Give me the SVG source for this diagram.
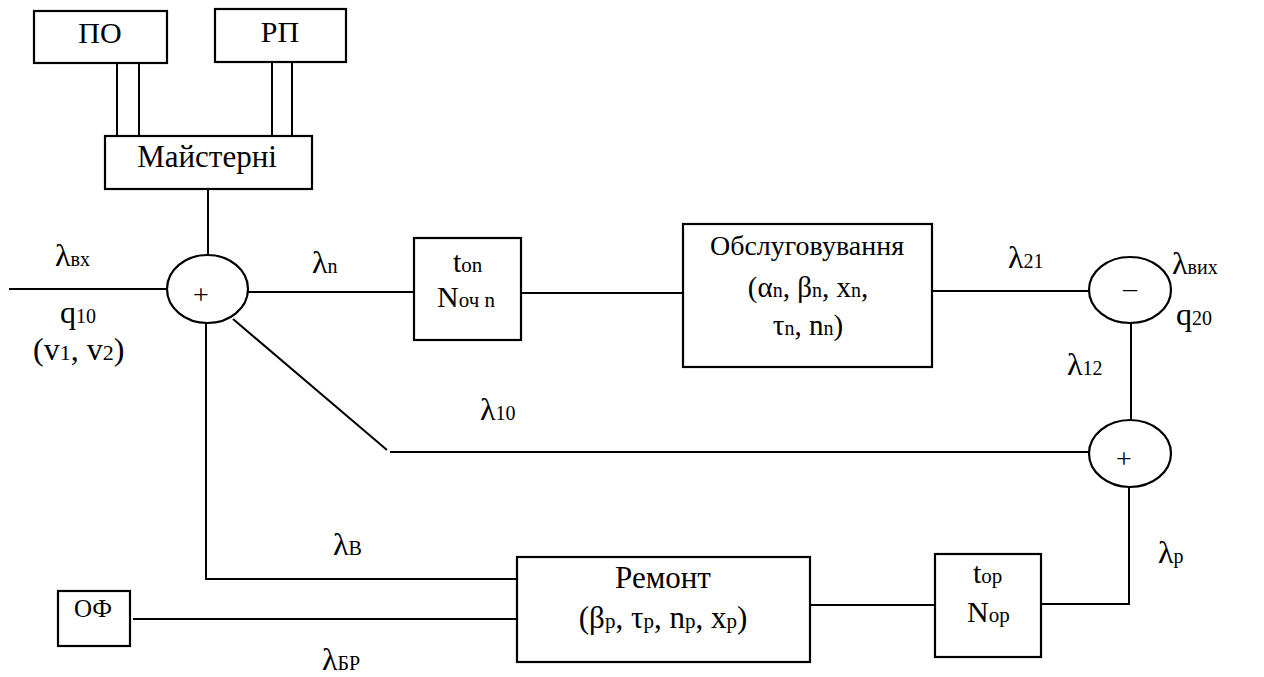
<svg xmlns="http://www.w3.org/2000/svg" width="1264" height="677" viewBox="0 0 1264 677">
<style>
.box{fill:#fff;stroke:#000;stroke-width:2.2}
.ln{fill:none;stroke:#000;stroke-width:2}
.t{font-family:"Liberation Serif","Liberation Sans",sans-serif;font-size:29px;fill:#000}
.s{font-size:20px}
.l{font-size:32px}
.c{text-anchor:middle}
</style>
<rect width="1264" height="677" fill="#fff"/>
<g id="connectors">
<line class="ln" x1="117" y1="63" x2="117" y2="136"/>
<line class="ln" x1="139" y1="63" x2="139" y2="136"/>
<line class="ln" x1="272" y1="62" x2="272" y2="136"/>
<line class="ln" x1="292" y1="62" x2="292" y2="136"/>
<line class="ln" x1="208" y1="189" x2="208" y2="255"/>
<line class="ln" x1="9" y1="289" x2="167" y2="289"/>
<line class="ln" x1="248" y1="292" x2="414" y2="292"/>
<line class="ln" x1="521" y1="293" x2="683" y2="293"/>
<line class="ln" x1="932" y1="291" x2="1089" y2="291"/>
<line class="ln" x1="1131" y1="323" x2="1131" y2="420"/>
<line class="ln" x1="233" y1="319" x2="387" y2="450"/>
<line class="ln" x1="390" y1="452" x2="1089" y2="452"/>
<polyline class="ln" points="1129,487 1129,604 1041,604"/>
<line class="ln" x1="810" y1="605" x2="935" y2="605"/>
<polyline class="ln" points="206,323 206,579 517,579"/>
<line class="ln" x1="133" y1="619" x2="517" y2="619"/>
</g>
<g id="PO">
<rect class="box" x="34" y="11" width="133" height="52"/>
<text class="t c" x="100" y="43" style="font-size:30px">ПО</text>
</g>
<g id="RP">
<rect class="box" x="215" y="9" width="131" height="53"/>
<text class="t c" x="280" y="42" style="font-size:30px">РП</text>
</g>
<g id="maisterni">
<rect class="box" x="105" y="136" width="207" height="53"/>
<text class="t c" x="207" y="167" style="font-size:31px">Майстерні</text>
</g>
<g id="sum1">
<ellipse class="box" cx="207.5" cy="289" rx="40.5" ry="34"/>
<text class="t c" x="201" y="304" style="font-size:28px">+</text>
</g>
<g id="t_on">
<rect class="box" x="414" y="238" width="107" height="102"/>
<text class="t" x="453" y="272" style="font-size:30px">t<tspan class="s" style="font-size:21px">on</tspan></text>
<text class="t" x="437" y="307" style="font-size:30px">N<tspan class="s" style="font-size:21px">оч n</tspan></text>
</g>
<g id="obsluh">
<rect class="box" x="683" y="224" width="249" height="143"/>
<text class="t c" x="807" y="255" style="font-size:28px">Обслуговування</text>
<text class="t c" x="808" y="297">(α<tspan class="s">n</tspan>, β<tspan class="s">n</tspan>, x<tspan class="s">n</tspan>,</text>
<text class="t c" x="808" y="335">τ<tspan class="s">n</tspan>, n<tspan class="s">n</tspan>)</text>
</g>
<g id="minus">
<ellipse class="box" cx="1130" cy="290" rx="41" ry="33"/>
<text class="t c" x="1130" y="297" style="font-size:28px">–</text>
</g>
<g id="sum2">
<ellipse class="box" cx="1130" cy="453.5" rx="41" ry="33.5"/>
<text class="t c" x="1124" y="468" style="font-size:28px">+</text>
</g>
<g id="remont">
<rect class="box" x="517" y="557" width="293" height="105"/>
<text class="t c" x="663" y="588" style="font-size:31px">Ремонт</text>
<text class="t c" x="663" y="628" style="font-size:31px">(β<tspan class="s" style="font-size:21px">p</tspan>, τ<tspan class="s" style="font-size:21px">p</tspan>, n<tspan class="s" style="font-size:21px">p</tspan>, x<tspan class="s" style="font-size:21px">p</tspan>)</text>
</g>
<g id="t_op">
<rect class="box" x="935" y="554" width="106" height="103"/>
<text class="t" x="973" y="583" style="font-size:30px">t<tspan class="s" style="font-size:21px">op</tspan></text>
<text class="t" x="967" y="622" style="font-size:30px">N<tspan class="s" style="font-size:21px">op</tspan></text>
</g>
<g id="OF">
<rect class="box" x="58" y="591" width="72" height="55"/>
<text class="t c" x="93" y="617" style="font-size:25px">ОФ</text>
</g>
<g id="labels">
<text class="t l" x="55" y="266">λ<tspan class="s">вх</tspan></text>
<text class="t l" x="60" y="323">q<tspan class="s">10</tspan></text>
<text class="t" x="33" y="360" style="font-size:32px">(v<tspan class="s" style="font-size:22px">1</tspan>, v<tspan class="s" style="font-size:22px">2</tspan>)</text>
<text class="t l" x="312" y="273">λ<tspan class="s">n</tspan></text>
<text class="t l" x="1008" y="268">λ<tspan class="s">21</tspan></text>
<text class="t l" x="1172" y="274">λ<tspan class="s">вих</tspan></text>
<text class="t l" x="1176" y="325">q<tspan class="s">20</tspan></text>
<text class="t l" x="1067" y="375">λ<tspan class="s">12</tspan></text>
<text class="t l" x="480" y="420">λ<tspan class="s">10</tspan></text>
<text class="t l" x="333" y="555">λ<tspan class="s">В</tspan></text>
<text class="t l" x="322" y="670">λ<tspan class="s">БР</tspan></text>
<text class="t l" x="1158" y="563">λ<tspan class="s">р</tspan></text>
</g>
</svg>
